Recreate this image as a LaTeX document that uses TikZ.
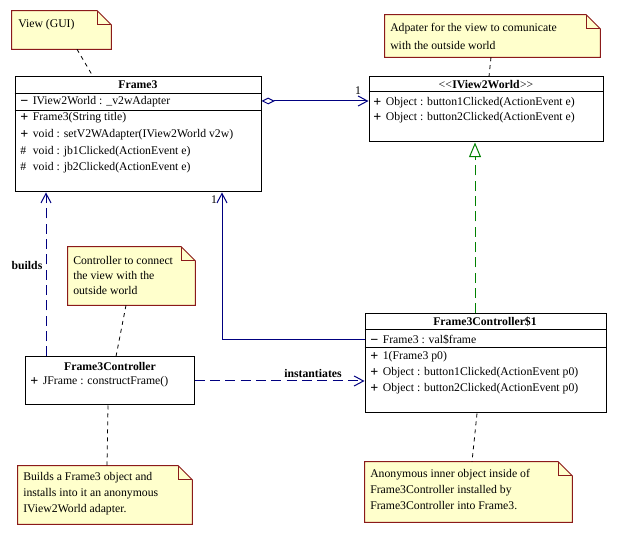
\documentclass[tikz,border=0pt]{standalone}
\usepackage{fontspec}
\setmainfont{Liberation Serif}
\usetikzlibrary{arrows.meta,calc,fit}
\definecolor{navy}{HTML}{000080}
\definecolor{umlgreen}{HTML}{008000}
\definecolor{notefill}{HTML}{FFFFCC}
\definecolor{noteline}{HTML}{8B1A1A}
\newcommand\umlfont{\fontsize{8.8pt}{10pt}\selectfont}
\newcommand\umlmem[2]{\makebox[9.4pt][l]{#1}#2}
\newcommand\umlplus{\raisebox{-0.3pt}{\fontsize{10.5pt}{10pt}\selectfont\bfseries +}}
\newcommand\umlminus{\raisebox{-0.3pt}{\fontsize{10.5pt}{10pt}\selectfont\bfseries −}}
\newcommand\umlnote[1]{%
  \draw[noteshape] (#1.north west) -- ($(#1.north east)+(-14,0)$) -- ($(#1.north east)+(0,14)$) -- (#1.south east) -- (#1.south west) -- cycle;
  \draw[noteshape, fill=none] ($(#1.north east)+(-14,0)$) -- ($(#1.north east)+(-14,14)$) -- ($(#1.north east)+(0,14)$);}
\tikzset{
  box/.style={draw=black, fill=white, line width=0.75pt, inner sep=0pt},
  sepline/.style={draw=black, line width=0.75pt},
  txt/.style={inner sep=0pt, anchor=west, font=\umlfont},
  ttl/.style={inner sep=0pt, font=\umlfont\bfseries},
  lbl/.style={inner sep=0pt, font=\umlfont},
  notebody/.style={inner sep=0pt},
  noteshape/.style={draw=noteline, fill=notefill, line width=0.75pt},
  notelink/.style={draw=black, line width=0.6pt, dash pattern=on 3pt off 3pt},
  navyline/.style={draw=navy, line width=0.75pt},
  navydash/.style={navyline, dash pattern=on 7.5pt off 4pt},
  realize/.style={draw=umlgreen, line width=0.75pt, dash pattern=on 7.5pt off 4pt},
  openv/.tip={Straight Barb[length=7pt,width=7.5pt,line width=0.75pt]},
}
\begin{document}
\begin{tikzpicture}[x=0.75pt,y=-0.75pt]
\useasboundingbox (0,0) rectangle (619,534);

% ---------- notes ----------
\node[notebody, fit={(12,11) (111,49)}] (viewnote) {};
\umlnote{viewnote}
\node[txt] (viewtxt) at (18,25) {View (GUI)};

\node[notebody, fit={(385,15) (600,57)}] (adnote) {};
\umlnote{adnote}
\node[txt] (adtxt1) at (390,29) {Adpater for the view to comunicate};
\node[txt] (adtxt2) at (390,45) {with the outside world};

\node[notebody, fit={(68,247) (195,305)}] (ctrlnote) {};
\umlnote{ctrlnote}
\node[txt] (cntxt1) at (73,260) {Controller to connect};
\node[txt] (cntxt2) at (73,275) {the view with the};
\node[txt] (cntxt3) at (73,290) {outside world};

\node[notebody, fit={(18,466) (192,524)}] (bnote) {};
\umlnote{bnote}
\node[txt] (bntxt1) at (23,478) {Builds a Frame3 object and};
\node[txt] (bntxt2) at (23,494) {installs into it an anonymous};
\node[txt] (bntxt3) at (23,510) {IView2World adapter.};

\node[notebody, fit={(365,462) (572,522)}] (anote) {};
\umlnote{anote}
\node[txt] (antxt1) at (370,475) {Anonymous inner object inside of};
\node[txt] (antxt2) at (370,491) {Frame3Controller installed by};
\node[txt] (antxt3) at (370,506) {Frame3Controller into Frame3.};

% ---------- classes ----------
\node[box, fit={(15,77) (261,192)}] (frame3) {};
\draw[sepline] ($(frame3.north west)+(0,17)$) -- ($(frame3.north east)+(0,17)$);
\draw[sepline] ($(frame3.north west)+(0,34)$) -- ($(frame3.north east)+(0,34)$);
\node[ttl] (f3t) at (138,85) {Frame3};
\node[txt] (f3a) at (20,102) {\umlmem{\umlminus}{IView2World : \_v2wAdapter}};
\node[txt] (f3m1) at (20,118) {\umlmem{\umlplus}{Frame3(String title)}};
\node[txt] (f3m2) at (20,135) {\umlmem{\umlplus}{void : setV2WAdapter(IView2World v2w)}};
\node[txt] (f3m3) at (20,152) {\umlmem{\#}{void : jb1Clicked(ActionEvent e)}};
\node[txt] (f3m4) at (20,168) {\umlmem{\#}{void : jb2Clicked(ActionEvent e)}};

\node[box, fit={(369,77) (603,142)}] (iview) {};
\draw[sepline] ($(iview.north west)+(0,15)$) -- ($(iview.north east)+(0,15)$);
\node[lbl] (ivt) at (486,85) {<\kern0pt<\kern0.3pt\textbf{IView2World}\kern0.3pt>\kern0pt>};
\node[txt] (ivm1) at (373,103) {\umlmem{\umlplus}{Object : button1Clicked(ActionEvent e)}};
\node[txt] (ivm2) at (373,118) {\umlmem{\umlplus}{Object : button2Clicked(ActionEvent e)}};

\node[box, fit={(365,314) (606,413)}] (anon) {};
\draw[sepline] ($(anon.north west)+(0,16)$) -- ($(anon.north east)+(0,16)$);
\draw[sepline] ($(anon.north west)+(0,34)$) -- ($(anon.north east)+(0,34)$);
\node[ttl] (ant) at (485,322) {Frame3Controller\$1};
\node[txt] (ana) at (370,340) {\umlmem{\umlminus}{Frame3 : val\$frame}};
\node[txt] (anm1) at (370,357) {\umlmem{\umlplus}{1(Frame3 p0)}};
\node[txt] (anm2) at (370,373) {\umlmem{\umlplus}{Object : button1Clicked(ActionEvent p0)}};
\node[txt] (anm3) at (370,389) {\umlmem{\umlplus}{Object : button2Clicked(ActionEvent p0)}};

\node[box, fit={(25,357) (194,405)}] (ctrl) {};
\node[ttl] (ctt) at (110,366) {Frame3Controller};
\node[txt] (ctm) at (30,382) {\umlmem{\umlplus}{JFrame : constructFrame()}};

% ---------- helper coordinates ----------
\coordinate (aggy) at (0,101);
\coordinate (realx) at (475,0);
\coordinate (assocx) at (222,0);
\coordinate (assocy) at (0,340);
\coordinate (buildsx) at (46,0);
\coordinate (insty) at (0,381);
\coordinate (vx1) at (77,0);
\coordinate (vx2) at (93,0);
\coordinate (ax1) at (491,0);
\coordinate (ax2) at (489,0);
\coordinate (cx1) at (126,0);
\coordinate (cx2) at (116,0);
\coordinate (bx1) at (108,0);
\coordinate (bx2) at (107,0);
\coordinate (nx1) at (477,0);
\coordinate (nx2) at (472,0);

% ---------- connectors ----------
\draw[navyline, {Diamond[open,length=10pt,width=5pt,line width=0.75pt]}-openv] (frame3.east |- aggy) -- (iview.west |- aggy);
\node[lbl] (one1) at (358,91) {1};

\draw[realize, -{Triangle[open,length=11pt,width=9pt,line width=0.75pt]}] (anon.north -| realx) -- (iview.south -| realx);

\draw[navyline, -openv] (anon.west |- assocy) -| (frame3.south -| assocx);
\node[lbl] (one2) at (214,200) {1};

\draw[navydash, -openv] (ctrl.north -| buildsx) -- (frame3.south -| buildsx);
\node[lbl, font=\umlfont\bfseries] (builds) at (27,266) {builds};

\draw[navydash, -openv] (ctrl.east |- insty) -- (anon.west |- insty);
\node[lbl, font=\umlfont\bfseries] (inst) at (313,373) {instantiates};

\draw[notelink] (viewnote.south -| vx1) -- (frame3.north -| vx2);
\draw[notelink] (adnote.south -| ax1) -- (iview.north -| ax2);
\draw[notelink] (ctrlnote.south -| cx1) -- (ctrl.north -| cx2);
\draw[notelink] (ctrl.south -| bx1) -- (bnote.north -| bx2);
\draw[notelink] (anon.south -| nx1) -- (anote.north -| nx2);
\end{tikzpicture}
\end{document}
